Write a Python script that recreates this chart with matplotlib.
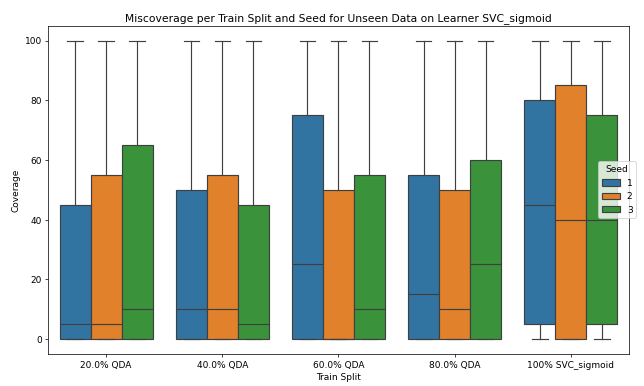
import matplotlib
matplotlib.use("Agg")
import matplotlib.pyplot as plt
import matplotlib.patches as patches
import numpy as np

splits = ["20.0% QDA", "40.0% QDA", "60.0% QDA", "80.0% QDA", "100% SVC_sigmoid"]
seeds = ["1", "2", "3"]
colors = ["#3274a1", "#e1812c", "#3a923a"]
line_gray = "#3f3f3f"

# box statistics per seed, one entry per train split
q1 = {
    "1": [0, 0, 0, 0, 5],
    "2": [0, 0, 0, 0, 0],
    "3": [0, 0, 0, 0, 5],
}
median = {
    "1": [5, 10, 25, 15, 45],
    "2": [5, 10, 0, 10, 40],
    "3": [10, 5, 10, 25, 40],
}
q3 = {
    "1": [45, 50, 75, 55, 80],
    "2": [55, 55, 50, 50, 85],
    "3": [65, 45, 55, 60, 75],
}
whis_lo = {
    "1": [0, 0, 0, 0, 0],
    "2": [0, 0, 0, 0, 0],
    "3": [0, 0, 0, 0, 0],
}
whis_hi = {
    "1": [100, 100, 100, 100, 100],
    "2": [100, 100, 100, 100, 100],
    "3": [100, 100, 100, 100, 100],
}

fig, ax = plt.subplots(figsize=(10, 6), dpi=64.4)
fig.subplots_adjust(left=0.0745, right=0.9767, bottom=0.083, top=0.9326)

n = len(seeds)
width = 0.8 / n
x = np.arange(len(splits))

for i, seed in enumerate(seeds):
    stats = []
    for j in range(len(splits)):
        stats.append(
            dict(
                q1=q1[seed][j],
                med=median[seed][j],
                q3=q3[seed][j],
                whislo=whis_lo[seed][j],
                whishi=whis_hi[seed][j],
                fliers=[],
            )
        )
    pos = x - 0.4 + width * (i + 0.5)
    ax.bxp(
        stats,
        positions=pos,
        widths=width,
        patch_artist=True,
        showfliers=False,
        manage_ticks=False,
        boxprops=dict(facecolor=colors[i], edgecolor=line_gray, linewidth=1.3),
        medianprops=dict(color=line_gray, linewidth=1.3),
        whiskerprops=dict(color=line_gray, linewidth=1.3),
        capprops=dict(color=line_gray, linewidth=1.3),
        capwidths=width / 2,
    )

ax.set_xlim(-0.5, len(splits) - 0.5)
ax.set_ylim(-5, 105)
ax.set_xticks(x)
ax.set_xticklabels(splits)
ax.set_xlabel("Train Split")
ax.set_ylabel("Coverage")
ax.set_title("Miscoverage per Train Split and Seed for Unseen Data on Learner SVC_sigmoid")

handles = [
    patches.Patch(facecolor=c, edgecolor=line_gray, linewidth=1.3, label=s)
    for c, s in zip(colors, seeds)
]
ax.legend(handles=handles, title="Seed", loc="center right", bbox_to_anchor=(1.02, 0.5))

fig.savefig("out.png")
